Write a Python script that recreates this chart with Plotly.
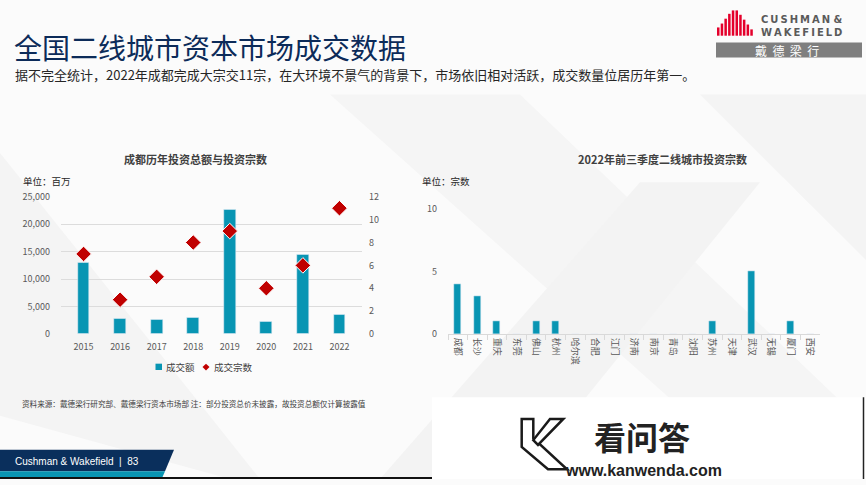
import plotly.graph_objects as go

# ---------------- data ----------------
years = ["2015", "2016", "2017", "2018", "2019", "2020", "2021", "2022"]
deal_amount = [13000, 2800, 2600, 3000, 22700, 2150, 14500, 3550]   # 百万
deal_count = [7, 3, 5, 8, 9, 4, 6, 11]

cities = ["成都", "长沙", "重庆", "东莞", "佛山", "杭州", "哈尔滨", "合肥", "江门", "济南",
          "南京", "青岛", "沈阳", "苏州", "天津", "武汉", "无锡", "厦门", "西安"]
city_counts = [4, 3, 1, 0, 1, 1, 0, 0, 0, 0, 0, 0, 0, 1, 0, 5, 0, 1, 0]

W, H = 866, 485
def px(x): return x / W
def py(y): return 1 - y / H

TEAL = "#0895b3"
RED = "#c00000"
NAVY = "#0c2b59"
CJK = "Noto Sans CJK SC, Noto Sans, sans-serif"
TICKC = "#595959"

fig = go.Figure()

fig.add_trace(go.Bar(x=years, y=deal_amount, name="成交额", marker_color=TEAL,
                     width=0.32, xaxis="x", yaxis="y", showlegend=False))
fig.add_trace(go.Scatter(x=years, y=deal_count, name="成交宗数", mode="markers",
                         marker=dict(symbol="diamond", size=12, color=RED,
                                     line=dict(color="white", width=1)),
                         xaxis="x", yaxis="y2", showlegend=False))
fig.add_trace(go.Bar(x=cities, y=city_counts, name="宗数", marker_color=TEAL,
                     width=0.36, xaxis="x2", yaxis="y3", showlegend=False))

shapes = []
def poly(pts, fill, line_color=None, lw=0, layer="below"):
    path = "M " + " L ".join(f"{px(a):.5f},{py(b):.5f}" for a, b in pts) + " Z"
    shapes.append(dict(type="path", xref="paper", yref="paper", path=path,
                       fillcolor=fill, line=dict(color=line_color or fill, width=lw),
                       layer=layer))

def rect(x0, y0, x1, y1, fill, layer="below", line_color=None, lw=0):
    shapes.append(dict(type="rect", xref="paper", yref="paper",
                       x0=px(x0), x1=px(x1), y0=py(y1), y1=py(y0),
                       fillcolor=fill, line=dict(color=line_color or fill, width=lw),
                       layer=layer))

# subtle background diagonal shading
poly([(0, 150), (0, 420), (230, 485), (260, 485)], "#f4f4f4")
poly([(330, 90), (520, 90), (866, 430), (866, 485), (760, 485)], "#f5f5f5")
poly([(380, 485), (640, 180), (760, 180), (520, 485)], "#f3f3f3")
poly([(700, 90), (866, 90), (866, 260)], "#f4f4f4")

# logo: red building bars
bar_tops = [21, 17, 12, 7, 3.5, 3.5, 8, 13, 18, 23]
for i, t in enumerate(bar_tops):
    x0 = 717 + i * 3.7
    rect(x0, t, x0 + 2.5, 29.5, "#e4002b", layer="above")
rect(716, 36.5, 862, 52, "#7f7f7f", layer="above")

# legend glyphs (left chart)
rect(155.5, 366.5, 162, 373, TEAL, layer="above")
poly([(206, 366.5), (209.5, 370), (206, 373.5), (202.5, 370)], RED, layer="above")

# footer
poly([(0, 455), (174, 455), (165, 477), (0, 477)], "#0a2f5c", layer="above")
poly([(0, 477), (165, 477), (162.5, 483), (0, 483)], TEAL, layer="above")
shapes.append(dict(type="line", xref="paper", yref="paper", x0=0, x1=px(432),
                   y0=py(484), y1=py(484), line=dict(color="#111111", width=2), layer="above"))

# watermark box
rect(432, 401, 866, 485, "white", layer="above")
shapes.append(dict(type="line", xref="paper", yref="paper", x0=px(863.5), x1=px(863.5),
                   y0=py(401), y1=py(485), line=dict(color="#222222", width=1.5), layer="above"))
poly([(521.7, 423.3), (533.3, 423.3), (533.3, 443), (567, 475), (548, 475), (521.7, 452)],
     "white", line_color="#1a1a1a", lw=2.5, layer="above")
poly([(550, 423.3), (563.3, 423.3), (538, 450), (533.3, 445)],
     "white", line_color="#1a1a1a", lw=2.5, layer="above")

annotations = []
def txt(x, y, s, size, color="#262626", xanchor="left", family=CJK, yanchor="middle"):
    annotations.append(dict(x=px(x), y=py(y), xref="paper", yref="paper", text=s,
                            showarrow=False, xanchor=xanchor, yanchor=yanchor,
                            font=dict(size=size, color=color, family=family)))

TS = "\u2009"
txt(12, 41, "全国二线城市资本市场成交数据", 28, NAVY)
txt(13, 69, "据不完全统计，2022年成都完成大宗交11宗，在大环境不景气的背景下，市场依旧相对活跃，成交数量位居历年第一。", 13, "#262626")
txt(759, 13, "<b>" + TS.join("CUSHMAN") + " &amp;</b>", 10, "#5a5a5a",
    family="DejaVu Sans, Liberation Sans, sans-serif")
txt(759, 26.5, "<b>" + TS.join("WAKEFIELD") + "</b>", 10, "#5a5a5a",
    family="DejaVu Sans, Liberation Sans, sans-serif")
txt(787, 44.5, "戴  德  梁  行", 12, "white", xanchor="center")

txt(195, 156, "<b>成都历年投资总额与投资宗数</b>", 11, "#404040", xanchor="center")
txt(21, 179, "单位：百万", 9.5, "#262626")
txt(662, 156, "<b>2022年前三季度二线城市投资宗数</b>", 11, "#404040", xanchor="center")
txt(420, 179, "单位：宗数", 9.5, "#262626")

txt(164, 370, "成交额", 9.5, "#404040")
txt(212, 370, "成交宗数", 9.5, "#404040")

txt(20, 407, "资料来源：戴德梁行研究部、戴德梁行资本市场部 注：部分投资总价未披露，故投资总额仅计算披露值", 7.6, "#404040")
txt(13, 467, "Cushman &amp; Wakefield  |  83", 10, "white",
    family="Liberation Sans Narrow, Liberation Sans, Arial, sans-serif")

txt(642, 441, "<b>看问答</b>", 32, "#222222", xanchor="center")
txt(643, 476, "<b>www.kanwenda.com</b>", 16, "#222222", xanchor="center",
    family="Liberation Sans, Arial, sans-serif")

tickfont = dict(size=9, color=TICKC, family=CJK)

fig.update_layout(
    width=W, height=H,
    margin=dict(l=0, r=0, t=0, b=0),
    paper_bgcolor="#fbfbfb",
    plot_bgcolor="rgba(0,0,0,0)",
    font=dict(family=CJK),
    shapes=shapes,
    annotations=annotations,
    bargap=0,
    showlegend=False,
    xaxis=dict(domain=[px(61), px(362)], anchor="y", type="category", showgrid=False,
               showline=False, ticks="", tickfont=tickfont, ticklabelstandoff=6, fixedrange=True),
    yaxis=dict(domain=[py(336), py(195)], anchor="x", range=[0, 25000],
               tickvals=[0, 5000, 10000, 15000, 20000, 25000], tickformat=",",
               showgrid=True, gridcolor="#dcdcdc", gridwidth=1, zeroline=False,
               showline=False, ticks="", tickfont=tickfont, ticklabelstandoff=10),
    yaxis2=dict(overlaying="y", side="right", anchor="x", range=[0, 12], dtick=2,
                showgrid=False, zeroline=False, showline=False, ticks="",
                tickfont=tickfont, ticklabelstandoff=6),
    xaxis2=dict(domain=[px(448), px(820)], anchor="y3", type="category", showgrid=False,
                showline=True, linecolor="#d9d9d9", linewidth=1, ticks="outside",
                tickson="boundaries", ticklen=5, tickcolor="#d9d9d9", tickangle=90,
                tickfont=tickfont, ticklabelstandoff=1),
    yaxis3=dict(domain=[py(336), py(207.7)], anchor="x2", range=[0, 10],
                tickvals=[0, 5, 10], showgrid=False, zeroline=False, showline=False,
                ticks="", tickfont=tickfont, ticklabelstandoff=10),
)

fig.write_html("out.html")
